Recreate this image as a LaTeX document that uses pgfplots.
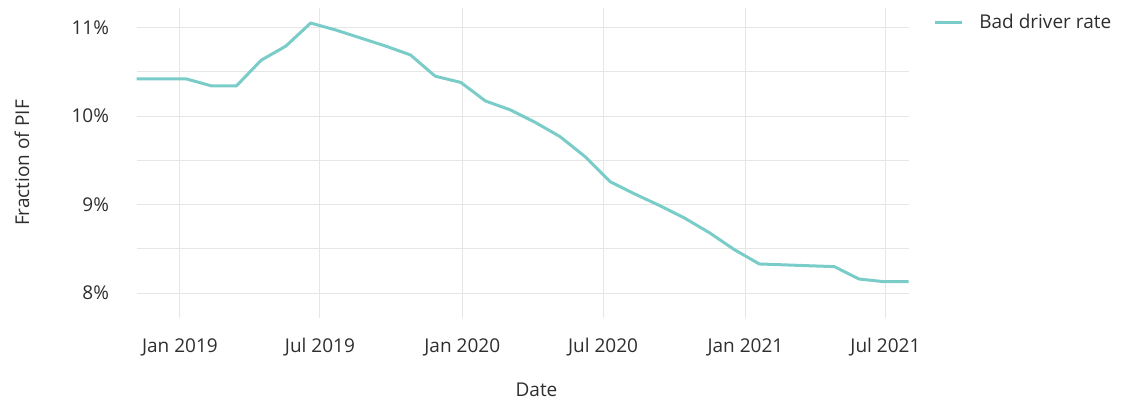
\documentclass[border=0pt]{standalone}
\usepackage{fontspec}
\setmainfont{Open Sans}
\usepackage{pgfplots}
\pgfplotsset{compat=1.18}
\definecolor{linec}{HTML}{7ACCC8}
\definecolor{gridc}{HTML}{E6E6E6}
\definecolor{txt}{HTML}{2E2E2E}
\pgfplotstableread{
day rate
-56 10.42
-24 10.42
8 10.42
41 10.34
73 10.34
105 10.63
137 10.79
169 11.05
202 10.97
234 10.88
266 10.79
298 10.69
330 10.45
363 10.38
395 10.17
427 10.07
459 9.93
491 9.77
524 9.54
556 9.26
588 9.12
620 8.99
652 8.85
685 8.68
717 8.49
749 8.33
781 8.32
813 8.31
846 8.30
878 8.16
910 8.13
942 8.13
}\datatable
\begin{document}
\fontsize{9.5}{11}\selectfont
\begin{tikzpicture}
\useasboundingbox (0,0) rectangle (562pt,200pt);
\begin{axis}[
  at={(68.3pt,41pt)}, anchor=south west,
  scale only axis, width=386pt, height=155pt,
  xmin=-56, xmax=942, ymin=7.72, ymax=11.22,
  axis line style={draw=none},
  major tick length=0pt, minor tick length=0pt,
  xtick={0,181,365,547,731,912},
  xticklabels={Jan 2019,Jul 2019,Jan 2020,Jul 2020,Jan 2021,Jul 2021},
  ytick={8,9,10,11},
  yticklabels={8\%,9\%,10\%,11\%},
  minor ytick={8.5,9.5,10.5},
  xmajorgrids, ymajorgrids, yminorgrids,
  major grid style={gridc, line width=0.5pt},
  minor grid style={gridc, line width=0.5pt},
  xticklabel style={anchor=base, inner sep=0pt, yshift=-17.5pt, text=txt, font=\fontsize{9.5}{11}\selectfont},
  yticklabel style={anchor=east, inner sep=0pt, xshift=-13.6pt, text=txt, font=\fontsize{9.5}{11}\selectfont},
  xlabel={Date}, ylabel={Fraction of PIF},
  every axis x label/.style={at={(axis description cs:0.518,-0.2535)}, anchor=base, inner sep=0pt, text=txt, font=\fontsize{9.5}{11}\selectfont},
  every axis y label/.style={at={(axis description cs:-0.1484,0.5)}, rotate=90, anchor=center, inner sep=0pt, text=txt, font=\fontsize{9.5}{11}\selectfont},
  legend style={at={(axis description cs:1.0315,0.953)}, anchor=west, draw=none, fill=none, inner sep=0pt, nodes={inner xsep=4.5pt, inner ysep=0pt, text=txt}, font=\fontsize{9.5}{11}\selectfont},
  legend image code/.code={\draw[#1] (0pt,0pt) -- (13.5pt,0pt);},
  legend cell align=left,
  clip=false,
]
\addplot[linec, line width=1.5pt, line join=round] table[x=day, y=rate] {\datatable};
\addlegendentry{\hspace{3.5pt}Bad driver rate}
\end{axis}
\end{tikzpicture}
\end{document}
